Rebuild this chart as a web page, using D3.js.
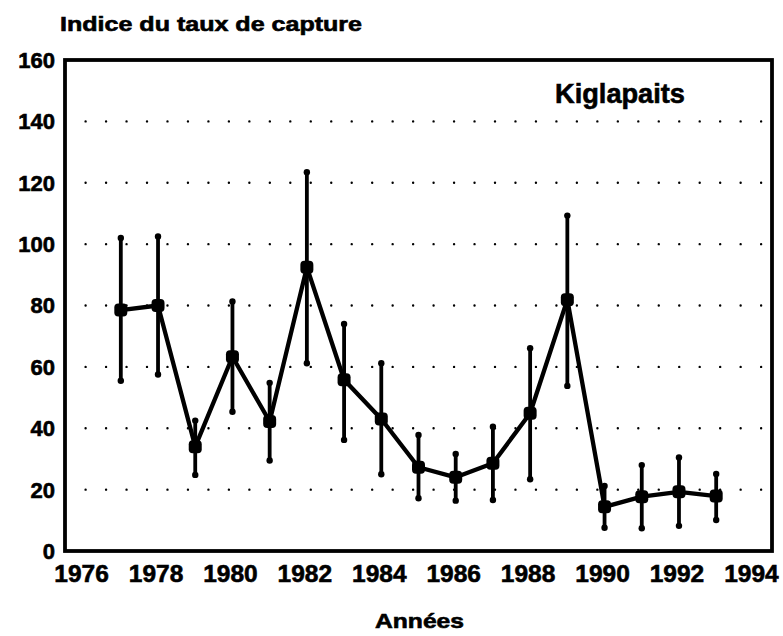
<!DOCTYPE html>
<html>
<head>
<meta charset="utf-8">
<script src="https://cdn.jsdelivr.net/npm/d3@7"></script>
<style>
  html, body { margin: 0; padding: 0; background: #fff; }
  svg { display: block; font-family: "Liberation Sans", Arial, Helvetica, sans-serif; }
  text { stroke: #000; stroke-width: 0.6px; fill: #000; }
</style>
</head>
<body>
<svg id="chart" width="783" height="636"></svg>
<script>
// ---- Data ----
const years = [1977, 1978, 1979, 1980, 1981, 1982, 1983, 1984, 1985, 1986, 1987, 1988, 1989, 1990, 1991, 1992, 1993];
const values = [78.5, 80, 34, 63.3, 42.2, 92.5, 55.8, 43, 27.3, 24, 28.6, 44.9, 81.9, 14.4, 17.7, 19.3, 17.9];
const upper = [102, 102.5, 42.5, 81.3, 54.8, 123.4, 74, 61.2, 37.8, 31.6, 40.5, 66.1, 109.3, 21.2, 28, 30.5, 25.1];
const lower = [55.5, 57.5, 24.8, 45.4, 29.5, 61.2, 36.2, 25, 17.2, 16.4, 16.6, 23.4, 53.8, 7.6, 7.4, 8.2, 10.1];
const xTicks = [1976, 1978, 1980, 1982, 1984, 1986, 1988, 1990, 1992, 1994];
const yTicks = [0, 20, 40, 60, 80, 100, 120, 140, 160];
const gridValues = [20, 40, 60, 80, 100, 120, 140];
const yTitle = "Indice du taux de capture";
const xTitle = "Années";
const siteLabel = "Kiglapaits";

// ---- Scales ----
const svg = d3.select("#chart");
const x = d3.scaleLinear().domain([1975.5, 1994.5]).range([65, 772]);
const y = d3.scaleLinear().domain([0, 160]).range([551, 60]);

// ---- Dotted grid ----
const gridStart = x(1976) + 2;
const gridEnd = 762;
svg.append("g").selectAll("line").data(gridValues).join("line")
  .attr("x1", gridStart).attr("x2", gridEnd)
  .attr("y1", d => y(d)).attr("y2", d => y(d))
  .attr("stroke", "#000").attr("stroke-width", 2.4)
  .attr("stroke-linecap", "round")
  .attr("stroke-dasharray", "0 20.47");

// ---- Frame ----
svg.append("rect")
  .attr("x", x(1975.5)).attr("y", y(160))
  .attr("width", x(1994.5) - x(1975.5)).attr("height", y(0) - y(160))
  .attr("fill", "none").attr("stroke", "#000").attr("stroke-width", 3.8);

// ---- Y tick labels ----
svg.append("g").selectAll("text").data(yTicks).join("text")
  .attr("x", 55).attr("y", d => y(d))
  .attr("dy", "0.36em")
  .attr("text-anchor", "end")
  .attr("font-size", 22).attr("font-weight", "bold")
  .text(d => d);

// ---- X tick labels ----
svg.append("g").selectAll("text").data(xTicks).join("text")
  .attr("x", d => x(d) - 2).attr("y", 582)
  .attr("text-anchor", "middle")
  .attr("font-size", 24.5).attr("font-weight", "bold")
  .text(d => d);

// ---- Titles ----
svg.append("text")
  .attr("x", 60).attr("y", 31)
  .attr("font-size", 20).attr("font-weight", "bold")
  .attr("textLength", 302).attr("lengthAdjust", "spacingAndGlyphs")
  .text(yTitle);

svg.append("text")
  .attr("x", 375).attr("y", 628)
  .attr("font-size", 20).attr("font-weight", "bold")
  .attr("textLength", 89).attr("lengthAdjust", "spacingAndGlyphs")
  .text(xTitle);

svg.append("text")
  .attr("x", 555).attr("y", 102.5)
  .attr("font-size", 28).attr("font-weight", "bold")
  .attr("textLength", 130).attr("lengthAdjust", "spacingAndGlyphs")
  .text(siteLabel);

// ---- Data marks ----
const data = years.map((yr, i) => ({ yr, v: values[i], hi: upper[i], lo: lower[i] }));

// connecting line
svg.append("path")
  .datum(data)
  .attr("fill", "none").attr("stroke", "#000").attr("stroke-width", 4.3)
  .attr("stroke-linejoin", "round")
  .attr("d", d3.line().x(d => x(d.yr)).y(d => y(d.v)));

// error bars
const eb = svg.append("g");
eb.selectAll("line").data(data).join("line")
  .attr("x1", d => x(d.yr)).attr("x2", d => x(d.yr))
  .attr("y1", d => y(d.hi)).attr("y2", d => y(d.lo))
  .attr("stroke", "#000").attr("stroke-width", 3.8);
eb.selectAll("circle.hi").data(data).join("circle").attr("class", "hi")
  .attr("cx", d => x(d.yr)).attr("cy", d => y(d.hi)).attr("r", 3.2);
eb.selectAll("circle.lo").data(data).join("circle").attr("class", "lo")
  .attr("cx", d => x(d.yr)).attr("cy", d => y(d.lo)).attr("r", 3.2);

// markers
svg.append("g").selectAll("rect").data(data).join("rect")
  .attr("x", d => x(d.yr) - 6.5).attr("y", d => y(d.v) - 6.5)
  .attr("width", 13).attr("height", 13).attr("rx", 4)
  .attr("fill", "#000");
</script>
</body>
</html>
